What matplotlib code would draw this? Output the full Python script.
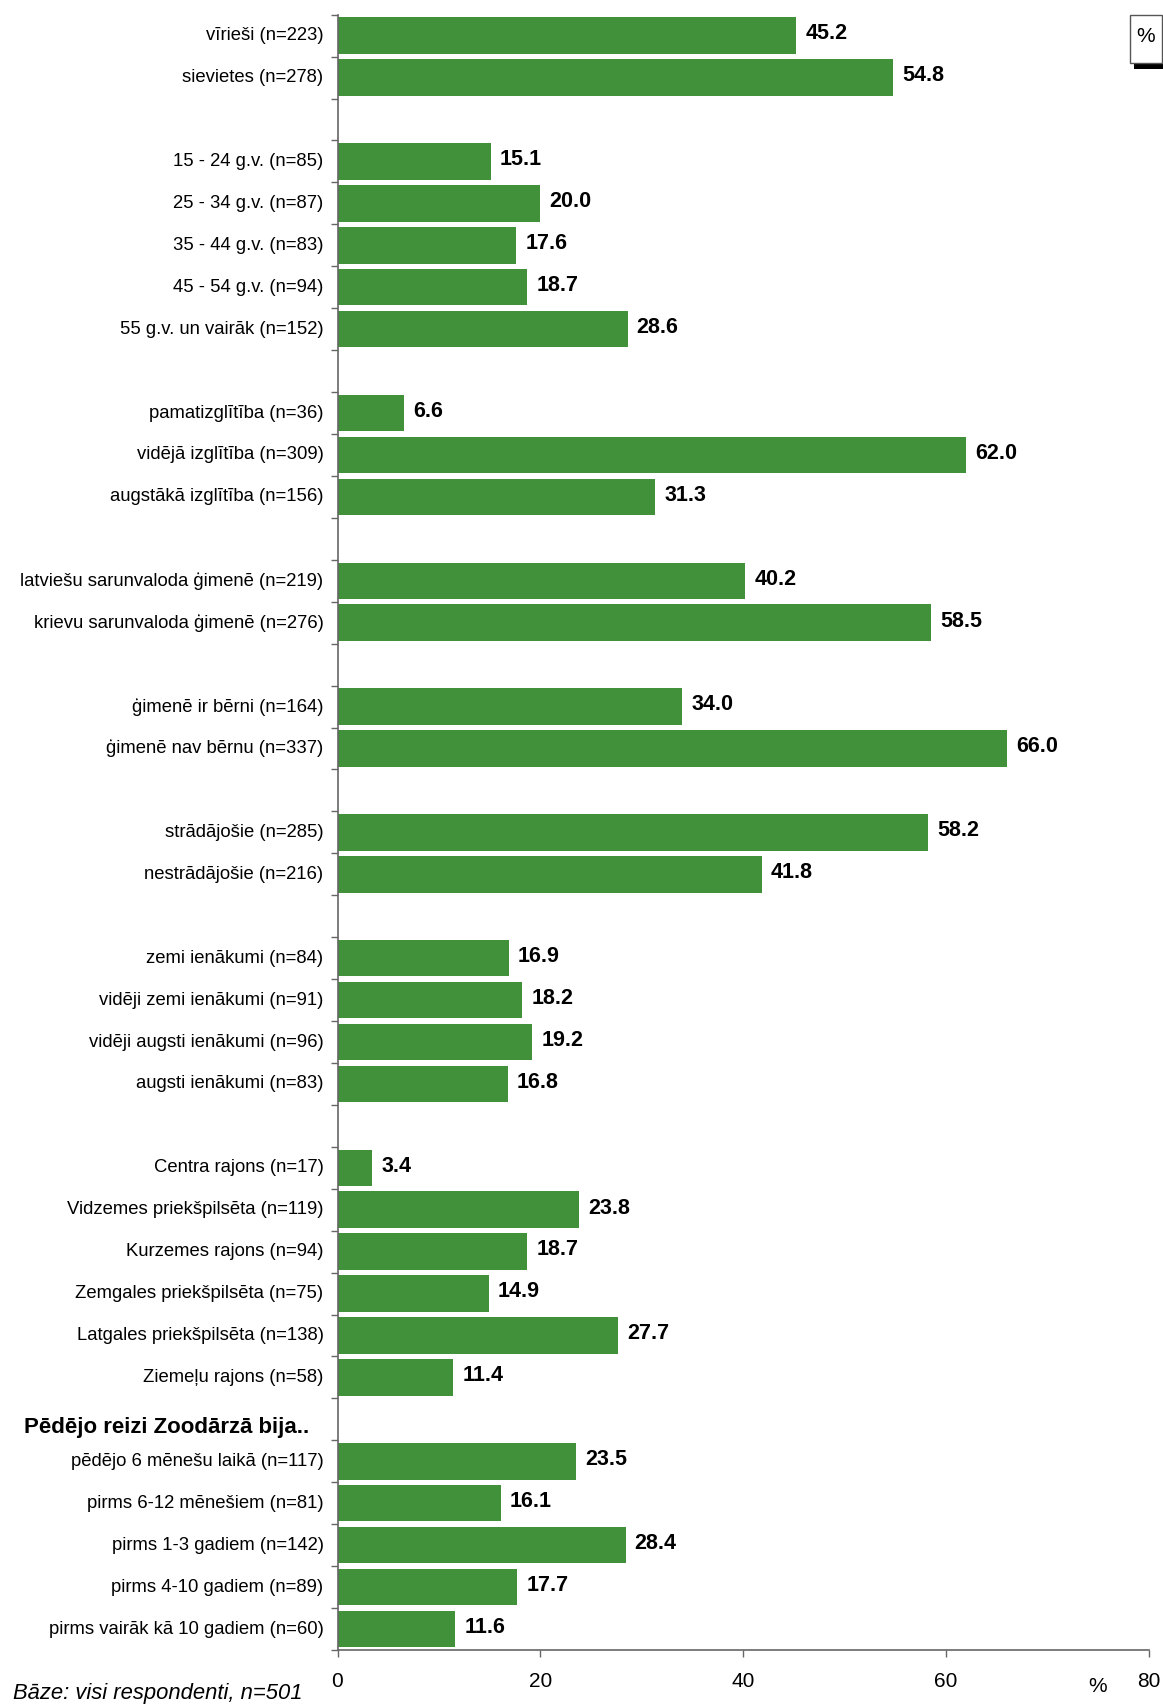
import matplotlib
matplotlib.use("Agg")
import matplotlib.pyplot as plt
from matplotlib.patches import Rectangle

plt.rcParams['font.family'] = ['Liberation Sans', 'DejaVu Sans']

# Data (None = empty separator row)
categories = [
    "vīrieši (n=223)", "sievietes (n=278)", None,
    "15 - 24 g.v. (n=85)", "25 - 34 g.v. (n=87)", "35 - 44 g.v. (n=83)",
    "45 - 54 g.v. (n=94)", "55 g.v. un vairāk (n=152)", None,
    "pamatizglītība (n=36)", "vidējā izglītība (n=309)", "augstākā izglītība (n=156)", None,
    "latviešu sarunvaloda ģimenē (n=219)", "krievu sarunvaloda ģimenē (n=276)", None,
    "ģimenē ir bērni (n=164)", "ģimenē nav bērnu (n=337)", None,
    "strādājošie (n=285)", "nestrādājošie (n=216)", None,
    "zemi ienākumi (n=84)", "vidēji zemi ienākumi (n=91)",
    "vidēji augsti ienākumi (n=96)", "augsti ienākumi (n=83)", None,
    "Centra rajons (n=17)", "Vidzemes priekšpilsēta (n=119)", "Kurzemes rajons (n=94)",
    "Zemgales priekšpilsēta (n=75)", "Latgales priekšpilsēta (n=138)", "Ziemeļu rajons (n=58)", None,
    "pēdējo 6 mēnešu laikā (n=117)", "pirms 6-12 mēnešiem (n=81)", "pirms 1-3 gadiem (n=142)",
    "pirms 4-10 gadiem (n=89)", "pirms vairāk kā 10 gadiem (n=60)",
]
values = [
    45.2, 54.8, None,
    15.1, 20.0, 17.6, 18.7, 28.6, None,
    6.6, 62.0, 31.3, None,
    40.2, 58.5, None,
    34.0, 66.0, None,
    58.2, 41.8, None,
    16.9, 18.2, 19.2, 16.8, None,
    3.4, 23.8, 18.7, 14.9, 27.7, 11.4, None,
    23.5, 16.1, 28.4, 17.7, 11.6,
]
group_header = "Pēdējo reizi Zoodārzā bija.."
header_row = 33
x_ticks = [0, 20, 40, 60, 80]
base_note = "Bāze: visi respondenti, n=501"

W, H = 1163, 1707
fig = plt.figure(figsize=(W / 100, H / 100), dpi=100)
ax = fig.add_axes([337.5 / W, 1 - 1650 / H, (1149 - 337.5) / W, (1650 - 14.7) / H])

color = '#40913A'
n = len(categories)
ys = [i for i, v in enumerate(values) if v is not None]
vs = [v for v in values if v is not None]
ax.barh(ys, vs, height=0.87, color=color, zorder=2)
for y, v in zip(ys, vs):
    ax.text(v + 0.9, y - 0.04, f"{v:.1f}", va='center', ha='left', fontsize=15.5,
            fontweight='bold', color='black')

ax.set_ylim(n - 0.5, -0.5)
ax.set_xlim(0, 80)

labeled = [i for i, c in enumerate(categories) if c is not None]
ax.set_yticks(labeled)
ax.set_yticklabels([categories[i] for i in labeled], fontsize=13.3, va='center')
ax.tick_params(axis='y', which='major', length=0, pad=10)
ax.set_yticks([k + 0.5 for k in range(-1, n)], minor=True)
ax.tick_params(axis='y', which='minor', length=5, width=1, color='#666666', direction='out')

ax.set_xticks(x_ticks)
ax.set_xticklabels([str(t) for t in x_ticks], fontsize=15)
ax.tick_params(axis='x', length=5, width=1, color='#666666', pad=11)

for s in ['top', 'right']:
    ax.spines[s].set_visible(False)
for s in ['left', 'bottom']:
    ax.spines[s].set_color('#666666')
    ax.spines[s].set_linewidth(1.2)

# group header
fig.text(24 / W, 1 - 1427 / H, group_header, ha='left', va='center',
         fontsize=16, fontweight='bold')

# axis unit
fig.text(1098 / W, 1 - 1687 / H, "%", fontsize=15, ha='center', va='center')
# base note
fig.text(13 / W, 1 - 1694 / H, base_note, fontsize=15.8, style='italic', ha='left', va='center')

# % box with shadow (top right)
fig.patches.append(Rectangle((1134 / W, 1 - 69 / H), 40 / W, 50 / H,
                             transform=fig.transFigure, facecolor='black', edgecolor='none'))
fig.patches.append(Rectangle((1130 / W, 1 - 63 / H), 32 / W, 48 / H,
                             transform=fig.transFigure, facecolor='white', edgecolor='#555555', linewidth=1))
fig.text(1146 / W, 1 - 37 / H, "%", fontsize=15, ha='center', va='center')

fig.savefig("out.png", dpi=100)
